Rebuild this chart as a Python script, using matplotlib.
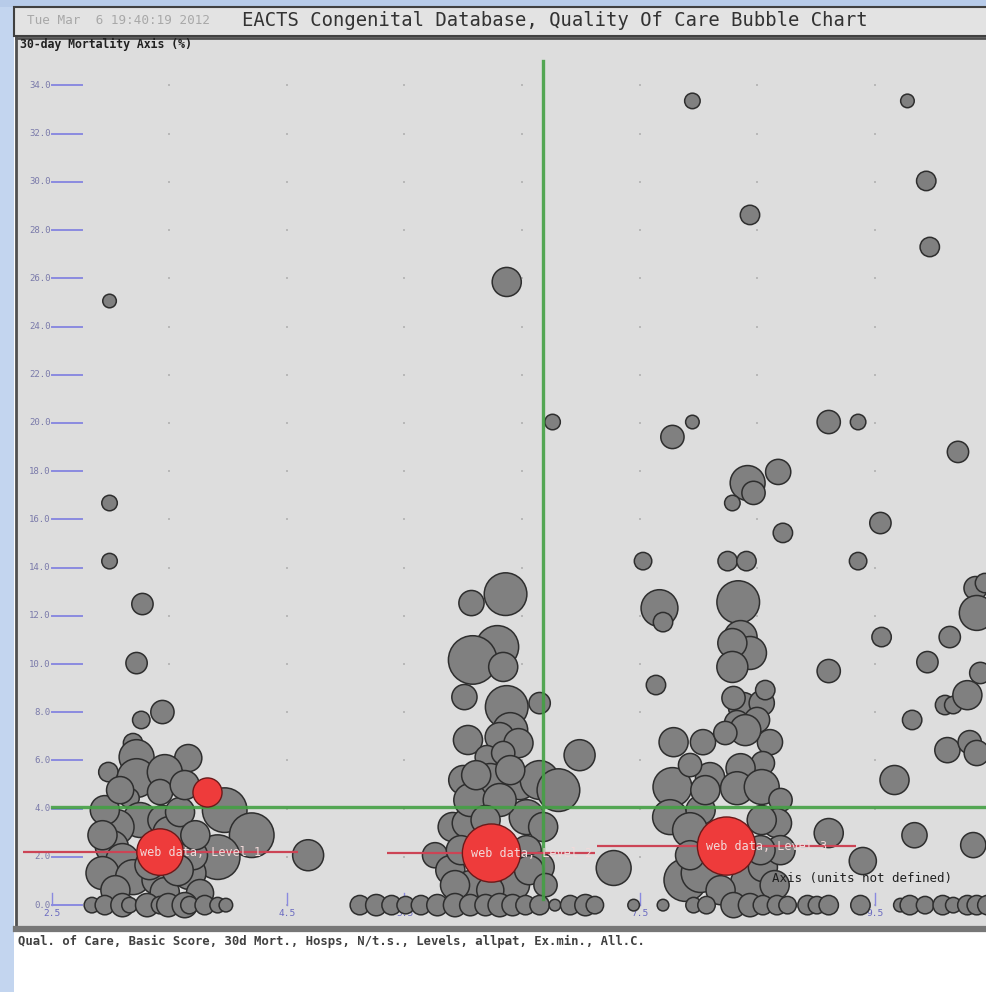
import numpy as np
import matplotlib
matplotlib.use("Agg")
import matplotlib.pyplot as plt
from matplotlib.patches import Rectangle

plt.rcParams["font.family"] = ["DejaVu Sans Mono", "DejaVu Sans"]

# ---- data ----
# hospital bubbles: x = quality score, y = 30-day mortality (%), cases -> bubble area
hosp_x = [
    7.95, 9.78, 9.94, 8.44, 9.97, 6.37, 2.99, 6.76, 7.78, 7.95, 9.11, 9.36, 10.21, 8.68,
    8.42, 8.47, 8.29, 2.99, 9.55, 8.72, 2.99, 7.53, 8.25, 8.41, 9.36, 6.36, 6.07, 3.27,
    7.67, 7.70, 8.34, 10.36, 10.44, 10.37, 3.22, 9.56, 10.14, 9.95, 10.40, 9.11, 7.64,
    3.26, 3.44, 6.65, 9.82, 10.10, 10.17, 10.29, 6.99, 10.12, 10.31, 10.37, 9.67, 9.84,
    9.11, 10.34, 9.40, 7.28, 4.68,
    # cluster 1
    3.19, 2.98, 3.66, 3.22, 3.22, 3.46, 3.42, 3.16, 3.97, 4.20, 3.91, 3.25, 3.05, 3.44,
    3.50, 3.01, 3.10, 2.93, 3.19, 3.39, 3.67, 3.70, 3.04, 3.46, 3.76,
    2.95, 2.93, 3.59, 3.72, 3.33, 3.57, 3.08, 3.63,
    2.84, 2.95, 3.10, 3.16, 3.31, 3.42, 3.49, 3.63, 3.67, 3.80, 3.91, 3.98,
    # cluster 2
    6.29, 6.08, 6.34, 6.01, 6.37, 6.40, 6.04, 6.31, 6.47, 6.20, 6.34, 6.00, 6.23, 6.48,
    6.65, 6.81, 5.91, 6.03, 6.54, 6.68, 5.76, 5.89, 6.54, 6.65, 6.06, 6.44, 6.23,
    6.06, 6.31, 6.19, 5.98, 6.56, 5.93, 6.70, 6.11, 6.40,
    5.12, 5.26, 5.39, 5.51, 5.64, 5.78, 5.93, 6.06, 6.19, 6.31, 6.42, 6.53, 6.65, 6.78,
    6.91, 7.04, 7.12,
    # cluster 3
    8.36, 8.44, 8.29, 8.29, 8.38, 8.54, 8.33, 8.50, 8.61, 8.40, 7.79, 8.04, 8.23, 8.55,
    8.36, 7.78, 8.10, 8.33, 8.54, 8.70, 7.76, 8.02, 8.67, 8.54, 7.89, 8.02, 8.44, 8.55,
    8.57, 8.30,
    7.93, 8.70, 7.93, 8.19, 8.65, 8.53, 8.06, 7.93,
    7.45, 7.70, 7.96, 8.07, 8.30, 8.44, 8.55, 8.67, 8.76, 8.93, 9.01, 9.11, 9.38,
    9.72, 9.80, 9.93, 10.08, 10.17, 10.29, 10.37, 10.46,
]
hosp_y = [
    33.36, 33.36, 30.04, 28.63, 27.30, 25.85, 25.06, 20.04, 19.42, 20.04, 20.04, 20.04,
    18.80, 17.97, 17.51, 17.10, 16.68, 16.68, 15.85, 15.44, 14.27, 14.27, 14.27, 14.27,
    14.27, 12.90, 12.53, 12.49, 12.32, 11.74, 12.57, 13.15, 13.36, 12.12, 10.04, 11.12,
    11.12, 10.08, 9.63, 9.71, 9.13, 7.68, 8.01, 8.38, 7.68, 8.30, 8.30, 8.71, 6.22, 6.43,
    6.76, 6.31, 5.19, 2.90, 2.99, 2.49, 1.83, 1.54, 2.07,
    # cluster 1
    6.72, 5.52, 6.10, 6.14, 5.27, 5.52, 4.69, 4.44, 3.94, 2.90, 1.99, 3.53, 3.24, 3.53,
    2.99, 2.41, 1.87, 1.33, 1.16, 1.04, 1.33, 2.07, 0.62, 0.54, 0.50,
    3.94, 2.90, 3.86, 2.90, 1.66, 1.45, 4.77, 4.98,
    0, 0, 0, 0, 0, 0, 0, 0, 0, 0, 0, 0,
    # cluster 2
    10.71, 10.17, 9.88, 8.63, 8.22, 7.26, 6.85, 6.97, 6.72, 6.14, 6.31, 5.19, 5.19, 5.06,
    5.19, 4.77, 3.24, 3.40, 3.65, 3.24, 2.07, 1.45, 2.28, 1.58, 0.83, 0.83, 0.62,
    4.36, 4.36, 3.53, 2.28, 1.45, 0.83, 0.83, 5.39, 5.60,
    0, 0, 0, 0, 0, 0, 0, 0, 0, 0, 0, 0, 0, 0, 0, 0, 0,
    # cluster 3
    11.12, 10.46, 10.87, 9.88, 8.22, 8.38, 7.55, 7.68, 6.76, 7.26, 6.76, 6.76, 7.14, 5.89,
    5.68, 4.90, 5.31, 4.85, 4.90, 4.36, 3.65, 3.94, 3.40, 3.53, 1.04, 1.33, 0.91, 1.58,
    8.92, 8.59,
    3.11, 2.28, 2.07, 0.62, 0.83, 2.28, 4.77, 5.81,
    0, 0, 0, 0, 0, 0, 0, 0, 0, 0, 0, 0, 0,
    0, 0, 0, 0, 0, 0, 0, 0,
]
hosp_cases = [
    64, 49, 100, 100, 100, 225, 49, 64, 144, 49, 144, 64, 121, 169, 324, 144, 64, 64,
    121, 100, 64, 81, 100, 100, 81, 484, 169, 121, 361, 100, 484, 144, 100, 324, 121,
    100, 121, 121, 121, 144, 100, 81, 144, 121, 100, 100, 81, 225, 256, 169, 144, 169,
    225, 169, 225, 169, 196, 324, 256,
    # cluster 1
    100, 100, 196, 324, 400, 324, 169, 100, 529, 529, 529, 324, 324, 225, 289, 289, 289,
    289, 324, 225, 289, 225, 225, 225, 196,
    225, 225, 225, 225, 225, 256, 196, 225,
    64, 100, 144, 64, 144, 81, 144, 169, 81, 100, 64, 49,
    # cluster 2
    484, 625, 225, 169, 484, 324, 225, 225, 225, 144, 144, 225, 289, 289, 400, 484, 225,
    225, 324, 225, 169, 225, 225, 225, 225, 225, 196,
    289, 289, 225, 225, 225, 225, 144, 225, 225,
    100, 121, 100, 81, 100, 121, 144, 121, 121, 144, 121, 100, 100, 36, 100, 121, 81,
    # cluster 3
    289, 289, 225, 256, 225, 169, 169, 169, 169, 256, 225, 169, 144, 144, 225, 400, 225,
    289, 324, 144, 324, 225, 225, 225, 484, 400, 400, 225, 100, 144,
    324, 225, 225, 225, 225, 225, 225, 144,
    36, 36, 64, 81, 169, 144, 100, 100, 81, 100, 81, 100, 100,
    49, 100, 81, 100, 64, 100, 100, 100,
]

# level means (red) with horizontal spread
level_x = [3.42, 6.24, 8.24]
level_y = [2.20, 2.16, 2.45]
level_cases = [576, 900, 900]
level_xerr = [1.17, 0.885, 1.10]
level_names = ["web data, Level 1", "web data, Level 2", "web data, Level 3"]
own_x, own_y, own_cases = [3.82], [4.69], [225]

# reference (green) lines
ref_x = 6.68
ref_y = 4.06

y_ticks = np.arange(0, 36, 2)
x_ticks = [2.5, 4.5, 5.5, 7.5, 9.5]
grid_x = np.arange(3.5, 10.6, 1.0)

title = "EACTS Congenital Database, Quality Of Care Bubble Chart"
stamp = "Tue Mar  6 19:40:19 2012"
caption = ("Qual. of Care, Basic Score, 30d Mort., Hosps, N/t.s., Levels, "
           "allpat, Ex.min., All.C.")

# ---- figure ----
W, H = 987, 992
fig = plt.figure(figsize=(W / 100, H / 100), dpi=100)
fig.patch.set_facecolor("white")

# window chrome: blue strips, title bar
fig.add_artist(Rectangle((0, 0), 14 / W, 1, transform=fig.transFigure,
                         fc="#c3d5ef", ec="none", zorder=0))
fig.add_artist(Rectangle((0, 1 - 7 / H), 1, 7 / H, transform=fig.transFigure,
                         fc="#b7cbe9", ec="none", zorder=0))
fig.add_artist(Rectangle((14 / W, 1 - 36 / H), 1, 29 / H, transform=fig.transFigure,
                         fc="#e3e3e3", ec="#404040", lw=1.5, zorder=1))
fig.text(27 / W, 1 - 21 / H, stamp, fontsize=9.1, color="#a8a8a8", va="center")
fig.text(242 / W, 1 - 21 / H, title, fontsize=13.6, color="#333333", va="center")

ax = fig.add_axes([16 / W, 1 - 929 / H, 1 - 16 / W, (929 - 38) / H])
ax.set_facecolor("#dddddd")
ax.set_xlim(2.194, 10.457)
ax.set_ylim(-0.99, 35.97)
ax.set_xticks([]); ax.set_yticks([])
ax.spines["left"].set_color("#505050"); ax.spines["left"].set_linewidth(2)
ax.spines["top"].set_color("#505050"); ax.spines["top"].set_linewidth(2)
ax.spines["bottom"].set_color("#777777"); ax.spines["bottom"].set_linewidth(4.5)
ax.spines["right"].set_visible(False)

# faint dotted grid
gx, gy = np.meshgrid(grid_x, y_ticks)
ax.scatter(gx.ravel(), gy.ravel(), s=2, c="#b8b8b8", marker="s", lw=0, zorder=1)

# y axis ticks drawn inside the plot
for v in y_ticks:
    ax.plot([2.5, 2.755], [v, v], color="#8a8ae0", lw=1.4, zorder=2)
    ax.text(2.49, v, f"{v:.1f}", fontsize=6.5, color="#7a7aaa", ha="right",
            va="center", zorder=2)
for v in x_ticks:
    ax.plot([v, v], [0, 0.5], color="#8a8ae0", lw=1.0, zorder=2)
    ax.text(v, -0.35, f"{v:.1f}", fontsize=6.8, color="#6a6ac0", ha="center",
            va="center", zorder=2)

ax.text(2.23, 35.72, "30-day Mortality Axis (%)", fontsize=8.3, weight="bold",
        color="#202020", va="center", zorder=6)

# bubbles
scale = 1.95
ax.scatter(hosp_x, hosp_y, s=np.array(hosp_cases) * scale, c="#808080",
           edgecolors="#2e2e2e", linewidths=1.1, zorder=3)

# reference lines
ax.plot([ref_x, ref_x], [0.25, 35.0], color="#44a044", lw=2.4, alpha=0.9, zorder=4)
ax.plot([2.5, 10.46], [ref_y, ref_y], color="#44a044", lw=2.4, alpha=0.9, zorder=4)

# level means
ax.errorbar(level_x, level_y, xerr=level_xerr, fmt="none", ecolor="#cc4455",
            elinewidth=1.6, capsize=0, zorder=4.5)
ax.scatter(level_x, level_y, s=np.array(level_cases) * scale, c="#ee3b3b",
           edgecolors="#6a1a1a", linewidths=1.0, zorder=5)
ax.scatter(own_x, own_y, s=np.array(own_cases) * scale, c="#ee3b3b",
           edgecolors="#6a1a1a", linewidths=1.0, zorder=5)
for x, y, name in zip(level_x, level_y, level_names):
    ax.text(x - 0.17, y, name, fontsize=8.5, color="#f2dada", va="center",
            ha="left", zorder=6)

ax.text(8.63, 1.12, "Axis (units not defined)", fontsize=9, color="#202020",
        va="center", zorder=6)

fig.text(18 / W, 1 - 941 / H, caption, fontsize=8.8, weight="bold", color="#404040",
         va="center")

fig.savefig("out.png", dpi=100)
